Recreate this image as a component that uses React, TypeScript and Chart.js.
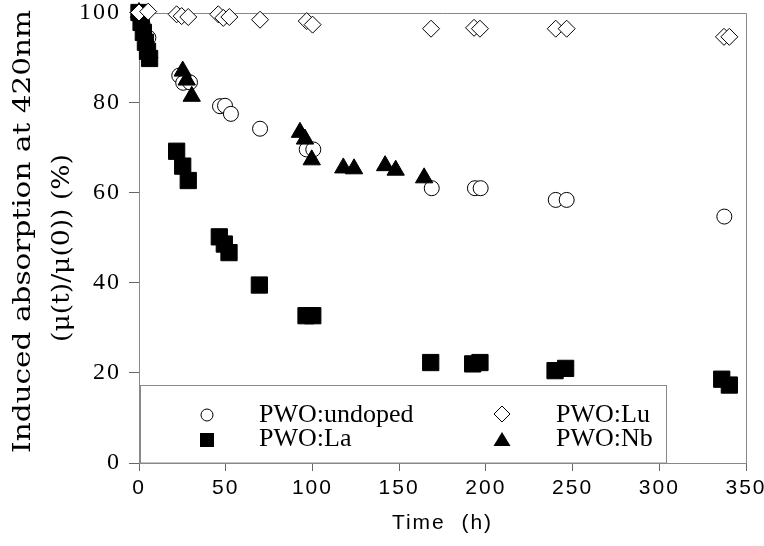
import { useEffect, useRef } from 'react';
import { Chart, registerables } from 'chart.js';
Chart.register(...registerables);

// PWO:undoped (open circles)
const undopedTime = [0, 2, 5.4, 23.2, 25.5, 29.4, 46.7, 49.6, 53.0, 69.8, 96.7, 100.5, 168.8, 193.7, 197.0, 240.3, 246.6, 337.5];
const undopedValue = [100, 97.5, 94.4, 86.0, 84.4, 84.5, 79.2, 79.3, 77.5, 74.2, 69.6, 69.6, 61.0, 61.0, 61.0, 58.4, 58.4, 54.7];

// PWO:Lu (open diamonds)
const luTime = [0, 5.3, 21.7, 24.6, 28.4, 45.7, 48.6, 52.1, 69.8, 96.7, 100.1, 168.4, 193.2, 196.6, 240.3, 246.6, 337.3, 340.4];
const luValue = [100, 100.2, 99.6, 99.2, 99.0, 99.6, 98.8, 99.0, 98.4, 98.1, 97.3, 96.4, 96.6, 96.4, 96.4, 96.4, 94.6, 94.6];

// PWO:La (filled squares)
const laTime = [0, 1.2, 2.5, 3.7, 4.9, 6.1, 21.7, 25.2, 28.4, 46.3, 49.2, 51.9, 69.4, 96.3, 100.2, 168.2, 192.4, 196.6, 239.9, 246.0, 336.0, 340.4];
const laValue = [100, 97.8, 95.6, 93.4, 91.4, 89.8, 69.2, 65.9, 62.7, 50.2, 48.6, 46.7, 39.5, 32.7, 32.7, 22.3, 22.0, 22.3, 20.5, 21.0, 18.6, 17.3];

// PWO:Nb (filled triangles)
const nbTime = [0, 3, 6, 25.2, 27.5, 30.4, 92.8, 95.7, 99.6, 117.8, 124.0, 141.9, 148.0, 164.4];
const nbValue = [100, 95, 91, 87.0, 85.0, 81.4, 73.4, 71.9, 67.3, 65.5, 65.3, 66.0, 65.0, 63.3];

const xTicks = [0, 50, 100, 150, 200, 250, 300, 350];
const yTicks = [0, 20, 40, 60, 80, 100];

const yTitleLines = ['Induced absorption at 420nm', '(\u03bc(t)/\u03bc(0)) (%)'];
const xTitle = 'Time  (h)';
const legendLabels = ['PWO:undoped', 'PWO:La', 'PWO:Lu', 'PWO:Nb'];

const pts = (xs: number[], ys: number[]) => xs.map((x, i) => ({ x, y: ys[i] }));

const decor = {
  id: 'decor',
  beforeDraw(chart: any) {
    chart.ctx.letterSpacing = '2px';
  },
  beforeDatasetsDraw(chart: any) {
    const ctx = chart.ctx;
    const a = chart.chartArea;
    ctx.save();
    ctx.strokeStyle = '#888';
    ctx.lineWidth = 1;
    ctx.beginPath();
    ctx.moveTo(a.left, Math.round(a.top) + 0.5);
    ctx.lineTo(Math.round(a.right) + 0.5, Math.round(a.top) + 0.5);
    ctx.lineTo(Math.round(a.right) + 0.5, a.bottom);
    ctx.stroke();
    ctx.restore();
  },
  afterDatasetsDraw(chart: any) {
    const ctx = chart.ctx;
    const a = chart.chartArea;
    ctx.save();
    ctx.letterSpacing = '0px';
    // legend box
    const bx = 140.5, by = 385.5, bw = 526, bh = a.bottom - by;
    ctx.fillStyle = '#fff';
    ctx.fillRect(bx, by, bw, bh);
    ctx.strokeStyle = '#888';
    ctx.lineWidth = 1;
    ctx.strokeRect(bx, by, bw, bh);
    // markers
    ctx.strokeStyle = '#000';
    ctx.beginPath();
    ctx.arc(207, 415, 6, 0, Math.PI * 2);
    ctx.fillStyle = '#fff';
    ctx.fill();
    ctx.stroke();
    ctx.fillStyle = '#000';
    ctx.fillRect(200, 433, 14, 14);
    ctx.beginPath();
    ctx.moveTo(502, 406);
    ctx.lineTo(510, 414);
    ctx.lineTo(502, 422);
    ctx.lineTo(494, 414);
    ctx.closePath();
    ctx.fillStyle = '#fff';
    ctx.fill();
    ctx.stroke();
    ctx.fillStyle = '#000';
    ctx.beginPath();
    ctx.moveTo(502, 432);
    ctx.lineTo(510.5, 446);
    ctx.lineTo(493.5, 446);
    ctx.closePath();
    ctx.fill();
    // labels
    ctx.font = '26px "Liberation Serif"';
    ctx.textAlign = 'left';
    ctx.textBaseline = 'alphabetic';
    ctx.fillText(legendLabels[0], 259, 422);
    ctx.fillText(legendLabels[1], 259, 446);
    ctx.fillText(legendLabels[2], 556, 422);
    ctx.fillText(legendLabels[3], 556, 446);
    ctx.restore();
  },
  afterDraw(chart: any) {
    const ctx = chart.ctx;
    ctx.save();
    ctx.letterSpacing = '0px';
    ctx.fillStyle = '#000';
    ctx.font = '25px "DejaVu Serif"';
    ctx.textAlign = 'center';
    ctx.textBaseline = 'middle';
    const specs = [
      { cx: 23, cy: 231.5, len: 443 },
      { cx: 62, cy: 248, len: 188 },
    ];
    yTitleLines.forEach((t, i) => {
      const s = specs[i];
      const w = ctx.measureText(t).width;
      ctx.save();
      ctx.translate(s.cx, s.cy);
      ctx.rotate(-Math.PI / 2);
      ctx.scale(s.len / w, 1);
      ctx.fillText(t, 0, 0);
      ctx.restore();
    });
    ctx.restore();
  },
};

export default function App() {
  const ref = useRef<HTMLCanvasElement | null>(null);
  useEffect(() => {
    const canvas = ref.current;
    if (!canvas) return;
    const chart = new Chart(canvas, {
      type: 'scatter',
      data: {
        datasets: [
          {
            label: legendLabels[2],
            data: pts(luTime, luValue),
            pointStyle: 'rectRot',
            pointRadius: 8.5,
            backgroundColor: '#fff',
            borderColor: '#000',
            borderWidth: 1,
            clip: false,
          },
          {
            label: legendLabels[3],
            data: pts(nbTime, nbValue),
            pointStyle: 'triangle',
            pointRadius: 10,
            backgroundColor: '#000',
            borderColor: '#000',
            borderWidth: 1,
            clip: false,
          },
          {
            label: legendLabels[1],
            data: pts(laTime, laValue),
            pointStyle: 'rect',
            pointRadius: 11.5,
            backgroundColor: '#000',
            borderColor: '#000',
            borderWidth: 1,
            clip: false,
          },
          {
            label: legendLabels[0],
            data: pts(undopedTime, undopedValue),
            pointStyle: 'circle',
            pointRadius: 7.5,
            backgroundColor: '#fff',
            borderColor: '#000',
            borderWidth: 1,
            clip: false,
          },
        ],
      } as any,
      options: {
        responsive: false,
        animation: false,
        devicePixelRatio: 1,
        events: [],
        layout: { padding: { top: 12, right: 18, left: 0, bottom: 0 } },
        plugins: { legend: { display: false }, tooltip: { enabled: false } },
        scales: {
          x: {
            type: 'linear',
            min: xTicks[0],
            max: xTicks[xTicks.length - 1],
            afterBuildTicks: (s: any) => { s.ticks = xTicks.map((v) => ({ value: v })); },
            ticks: {
              font: { family: '"Liberation Sans"', size: 21 },
              color: '#000',
              padding: 5,
            },
            grid: { drawOnChartArea: false, tickLength: 8, color: '#666' },
            border: { color: '#888' },
            title: {
              display: true,
              text: xTitle,
              color: '#000',
              font: { family: '"Liberation Sans"', size: 21 },
              padding: { top: 0, bottom: 10 },
            },
            afterFit: (s: any) => { s.height = 83; s.paddingLeft = 0; s.paddingRight = 0; },
          },
          y: {
            type: 'linear',
            min: yTicks[0],
            max: yTicks[yTicks.length - 1],
            afterBuildTicks: (s: any) => { s.ticks = yTicks.map((v) => ({ value: v })); },
            ticks: {
              font: { family: '"Liberation Serif"', size: 24 },
              color: '#000',
              padding: 8,
            },
            grid: { drawOnChartArea: false, tickLength: 10, color: '#666' },
            border: { color: '#888' },
            afterFit: (s: any) => { s.width = 139; s.paddingTop = 0; s.paddingBottom = 0; },
          },
        },
      } as any,
      plugins: [decor],
    });
    return () => chart.destroy();
  }, []);
  return (
    <div style={{ position: 'fixed', left: 0, top: 0, width: 764, height: 546, background: '#fff' }}>
      <canvas ref={ref} width={764} height={546} style={{ display: 'block' }} />
    </div>
  );
}
